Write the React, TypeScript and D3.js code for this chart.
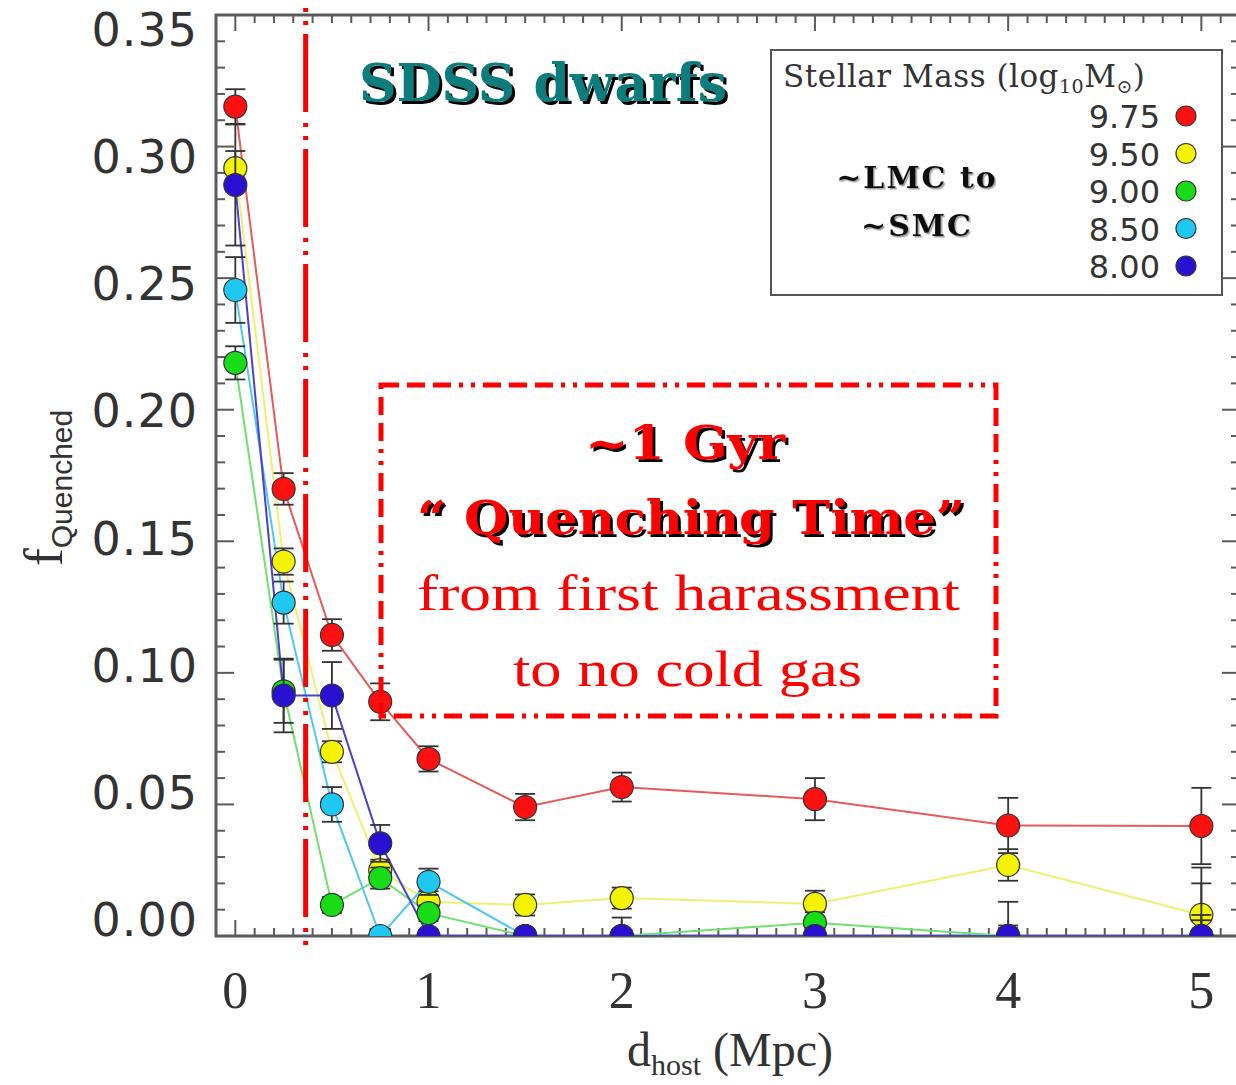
import React from "react";
import * as d3 from "d3";

const distances = [0, 0.25, 0.5, 0.75, 1, 1.5, 2, 3, 4, 5];
const massLabels = ["9.75", "9.50", "9.00", "8.50", "8.00"];
const seriesColors = ["#ff1010", "#f4f400", "#18dc18", "#1ec8f0", "#2a10d0"];
const lineColors = ["#e85a5a", "#f0f070", "#70e070", "#50c8f0", "#4a40d0"];
const red975 = [0.3152, 0.1699, 0.1144, 0.089, 0.0673, 0.049, 0.0566, 0.052, 0.042, 0.0418];
const yellow950 = [0.2918, 0.1423, 0.07, 0.025, 0.013, 0.0118, 0.0144, 0.0122, 0.027, 0.008];
const green900 = [0.2178, 0.093, 0.0118, 0.022, 0.0087, 0, 0, 0.005, 0, 0];
const cyan850 = [0.2455, 0.1267, 0.05, 0, 0.0206, 0, 0, 0, 0, 0];
const blue800 = [0.2854, 0.0914, 0.0914, 0.0352, 0, 0, 0, 0, 0, 0];
const redErr = [0.0066, 0.006, 0.006, 0.007, 0.0048, 0.005, 0.0055, 0.008, 0.0105, 0.0145];
const yellowErr = [0.0065, 0.005, 0.004, 0.004, 0.004, 0.004, 0.004, 0.005, 0.006, 0.018];
const greenErr = [0.0063, 0.012, 0.003, 0.004, 0.003, 0.001, 0.001, 0.004, 0.004, 0.008];
const cyanErr = [0.0125, 0.008, 0.0066, 0.002, 0.005, 0.001, 0.001, 0.002, 0.003, 0.006];
const blueErr = [0.023, 0.014, 0.0127, 0.007, 0.002, 0.002, 0.007, 0.003, 0.013, 0.02];
const yTickLabels = ["0.00", "0.05", "0.10", "0.15", "0.20", "0.25", "0.30", "0.35"];
const xTickLabels = ["0", "1", "2", "3", "4", "5"];
const quenchTimeX = 0.364;

const seriesValues = [red975, yellow950, green900, cyan850, blue800];
const seriesErrors = [redErr, yellowErr, greenErr, cyanErr, blueErr];

const W = 1236;
const H = 1085;
const left = 216, right = 1240, top = 15, bottom = 936;

export default function App() {
  const x = d3.scaleLinear().domain([-0.1, 5.2]).range([left, right]);
  const y = d3.scaleLinear().domain([0, 0.35]).range([bottom, top]);
  const yLab = d3.scaleLinear().domain([0, 0.35]).range([920, 30]);
  const line = d3.line<number>().x((_, i) => x(distances[i])).y((v) => y(v));

  const xMinor = d3.range(-1, 53).map((i) => ({ v: i / 10, major: i % 10 === 0 }));
  const yMinor = d3.range(0, 36).map((i) => ({ v: i / 100, major: i % 5 === 0 }));
  const axisColor = "#5a5a5a";

  const legendY = d3.scalePoint<string>().domain(massLabels).range([116, 266]);

  return (
    <svg width={W} height={H} style={{ position: "absolute", left: 0, top: 0, background: "#fff" }}>
      <defs>
        <clipPath id="plotclip">
          <rect x={left} y={top} width={right - left} height={bottom - top} />
        </clipPath>
        <filter id="shadow" x="-5%" y="-20%" width="110%" height="140%">
          <feDropShadow dx={3} dy={3} stdDeviation={0} floodColor="#000" floodOpacity={1} />
        </filter>
        <filter id="softshadow" x="-5%" y="-20%" width="110%" height="140%">
          <feDropShadow dx={1.5} dy={1.5} stdDeviation={0.5} floodColor="#888" floodOpacity={0.8} />
        </filter>
      </defs>
      <rect x={0} y={0} width={W} height={H} fill="#fff" />

      {/* ticks */}
      <g stroke={axisColor} strokeWidth={2}>
        {xMinor.map((t, i) => (
          <g key={"xt" + i}>
            <line x1={x(t.v)} x2={x(t.v)} y1={bottom} y2={bottom - (t.major ? 16 : 8)} />
            <line x1={x(t.v)} x2={x(t.v)} y1={top} y2={top + (t.major ? 16 : 8)} />
          </g>
        ))}
        {yMinor.map((t, i) => (
          <g key={"yt" + i}>
            <line x1={left} x2={left + (t.major ? 18 : 9)} y1={y(t.v)} y2={y(t.v)} />
            <line x1={right} x2={right - (t.major ? 18 : 9)} y1={y(t.v)} y2={y(t.v)} />
          </g>
        ))}
      </g>
      <rect x={left} y={top} width={right - left} height={bottom - top} fill="none" stroke={axisColor} strokeWidth={3} />

      {/* tick labels */}
      <g fontFamily="DejaVu Sans" fontSize={46} fill="#333" textAnchor="end">
        {yTickLabels.map((l) => (
          <text key={l} x={198} y={yLab(+l)} dominantBaseline="central" letterSpacing={1}>{l}</text>
        ))}
      </g>
      <g fontFamily="Liberation Serif" fontSize={52} fill="#333" textAnchor="middle">
        {xTickLabels.map((l) => (
          <text key={l} x={x(+l)} y={1008}>{l}</text>
        ))}
      </g>

      {/* axis titles */}
      <text x={730} y={1066} textAnchor="middle" fontFamily="Liberation Serif" fill="#333" fontSize={48}>
        d<tspan fontSize={30} dy={9}>host</tspan><tspan dy={-9}>{"\u00a0(Mpc)"}</tspan>
      </text>
      <text transform="translate(62,488) rotate(-90)" textAnchor="middle" fill="#333">
        <tspan fontFamily="Liberation Serif" fontSize={54}>f</tspan>
        <tspan fontFamily="Liberation Sans" fontSize={30} dy={10}>Quenched</tspan>
      </text>

      {/* data */}
      <g clipPath="url(#plotclip)">
        {seriesValues.map((vals, s) => (
          <path key={"l" + s} d={line(vals) || ""} fill="none" stroke={lineColors[s]} strokeWidth={2} />
        ))}
        {seriesValues.map((vals, s) => (
          <g key={"s" + s}>
            <g stroke="#333" strokeWidth={1.8}>
              {vals.map((v, i) => {
                const e = seriesErrors[s][i];
                const cx = x(distances[i]);
                return (
                  <g key={i}>
                    <line x1={cx} x2={cx} y1={y(v - e)} y2={y(v + e)} />
                    <line x1={cx - 10} x2={cx + 10} y1={y(v + e)} y2={y(v + e)} />
                    <line x1={cx - 10} x2={cx + 10} y1={y(v - e)} y2={y(v - e)} />
                  </g>
                );
              })}
            </g>
            {vals.map((v, i) => (
              <circle key={i} cx={x(distances[i])} cy={y(v)} r={11.5} fill={seriesColors[s]} stroke="#333" strokeWidth={1.2} />
            ))}
          </g>
        ))}
      </g>

      {/* vertical quenching line */}
      <line x1={x(quenchTimeX)} x2={x(quenchTimeX)} y1={8} y2={948} stroke="#ff0000" strokeWidth={5}
        strokeDasharray="78 11 4 9 4 9" strokeDashoffset={-26} />

      {/* SDSS dwarfs */}
      <text x={359} y={101} fill="#0b7b7b" fontFamily="DejaVu Serif" fontWeight="bold" fontSize={52}
        textLength={368} lengthAdjust="spacingAndGlyphs" filter="url(#shadow)">SDSS dwarfs</text>

      {/* legend */}
      <rect x={771} y={50} width={451} height={245} fill="#fff" stroke="#555" strokeWidth={2} />
      <text x={783} y={87} fontFamily="DejaVu Serif" fontSize={31} fill="#333" letterSpacing={0.5}>
        Stellar Mass (log<tspan fontSize={19} dy={6}>10</tspan><tspan dy={-6}>M</tspan><tspan fontSize={19} dy={6}>{"\u2299"}</tspan><tspan dy={-6}>)</tspan>
      </text>
      {massLabels.map((m, i) => (
        <g key={m}>
          <text x={1160} y={(legendY(m) || 0) + 12} textAnchor="end" fontFamily="DejaVu Sans" fontSize={32} fill="#333">{m}</text>
          <circle cx={1186} cy={legendY(m) || 0} r={10} fill={seriesColors[i]} stroke="#333" strokeWidth={1.2} />
        </g>
      ))}
      <g fontFamily="DejaVu Serif" fontWeight="bold" fontSize={30} textAnchor="middle" fill="#111" letterSpacing={2} filter="url(#softshadow)">
        <text x={917} y={188}>~LMC to</text>
        <text x={917} y={236}>~SMC</text>
      </g>

      {/* annotation box */}
      <rect x={381} y={385} width={615} height={331} fill="none" stroke="#ff0000" strokeWidth={5}
        strokeDasharray="18 8 18 8 18 8 4 8 4 8" />
      <g fontFamily="DejaVu Serif" fontWeight="bold" fontSize={46} fill="#ff0000" filter="url(#shadow)">
        <text x={585} y={459} textLength={200} lengthAdjust="spacingAndGlyphs">~1 Gyr</text>
        <text x={417} y={534} textLength={548} lengthAdjust="spacingAndGlyphs">{"\u201c Quenching Time\u201d"}</text>
      </g>
      <g fontFamily="Liberation Serif" fontSize={50} fill="#ff0000">
        <text x={417} y={610} textLength={543} lengthAdjust="spacingAndGlyphs">from first harassment</text>
        <text x={513} y={686} textLength={349} lengthAdjust="spacingAndGlyphs">to no cold gas</text>
      </g>
    </svg>
  );
}
